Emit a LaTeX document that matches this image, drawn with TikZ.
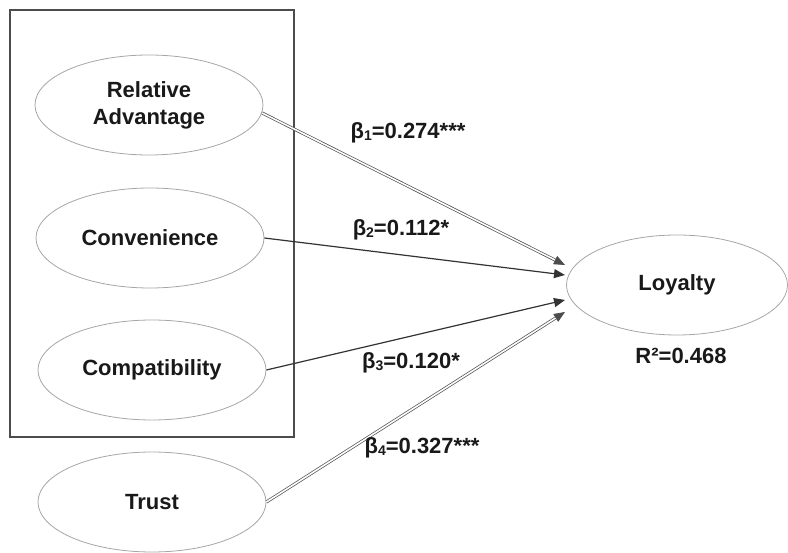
\documentclass[tikz,border=0pt]{standalone}
\usepackage{fontspec}
\setmainfont{Liberation Sans}
\usetikzlibrary{shapes.geometric,arrows.meta,calc}
\newcommand\lowsub[1]{\raisebox{-1.5pt}{\fontsize{14}{14}\selectfont #1}}
\begin{document}
\begin{tikzpicture}[x=1pt,y=-1pt,
  every node/.style={font=\fontsize{22}{27}\selectfont\bfseries, text=black!90},
  construct/.style={ellipse, draw=gray!70, line width=0.8pt, minimum width=228pt, minimum height=100pt, inner sep=0pt, align=center},
  single/.style={draw=gray!40!black, line width=1.2pt, -{Triangle[length=11pt,width=9pt]}},
  dbl/.style={draw=gray!60!black, line width=0.7pt, double=white, double distance=1.6pt, -{Triangle[length=11pt,width=9pt]}},
  coef/.style={inner sep=0pt},
  framebox/.style={draw=gray!60!black, line width=1.6pt}]
\useasboundingbox (0,0) rectangle (788,553);
\draw[framebox] (10,10) rectangle (294,437);
\node[construct] (ra) at (149,105) {Relative\\Advantage};
\node[construct] (cv) at (150,238) {Convenience};
\node[construct] (cp) at (152,370) {Compatibility};
\node[construct] (tr) at (152,502) {Trust};
\node[construct, minimum width=221pt] (ly) at (677,285) {Loyalty};
\coordinate (t1) at (565,265);
\coordinate (t2) at (565,275);
\coordinate (t3) at (565,300);
\coordinate (t4) at (565,312);
\draw[dbl] (ra.-4) -- (t1);
\draw[single] (cv.east) -- (t2);
\draw[single] (cp.east) -- (t3);
\draw[dbl] (tr.east) -- (t4);
\node[coef] (b1) at (408,133) {β\lowsub{1}=0.274***};
\node[coef] (b2) at (401,230) {β\lowsub{2}=0.112*};
\node[coef] (b3) at (411,363) {β\lowsub{3}=0.120*};
\node[coef] (b4) at (422,448) {β\lowsub{4}=0.327***};
\node[coef] (r2) at (681,356) {R²=0.468};
\end{tikzpicture}
\end{document}
